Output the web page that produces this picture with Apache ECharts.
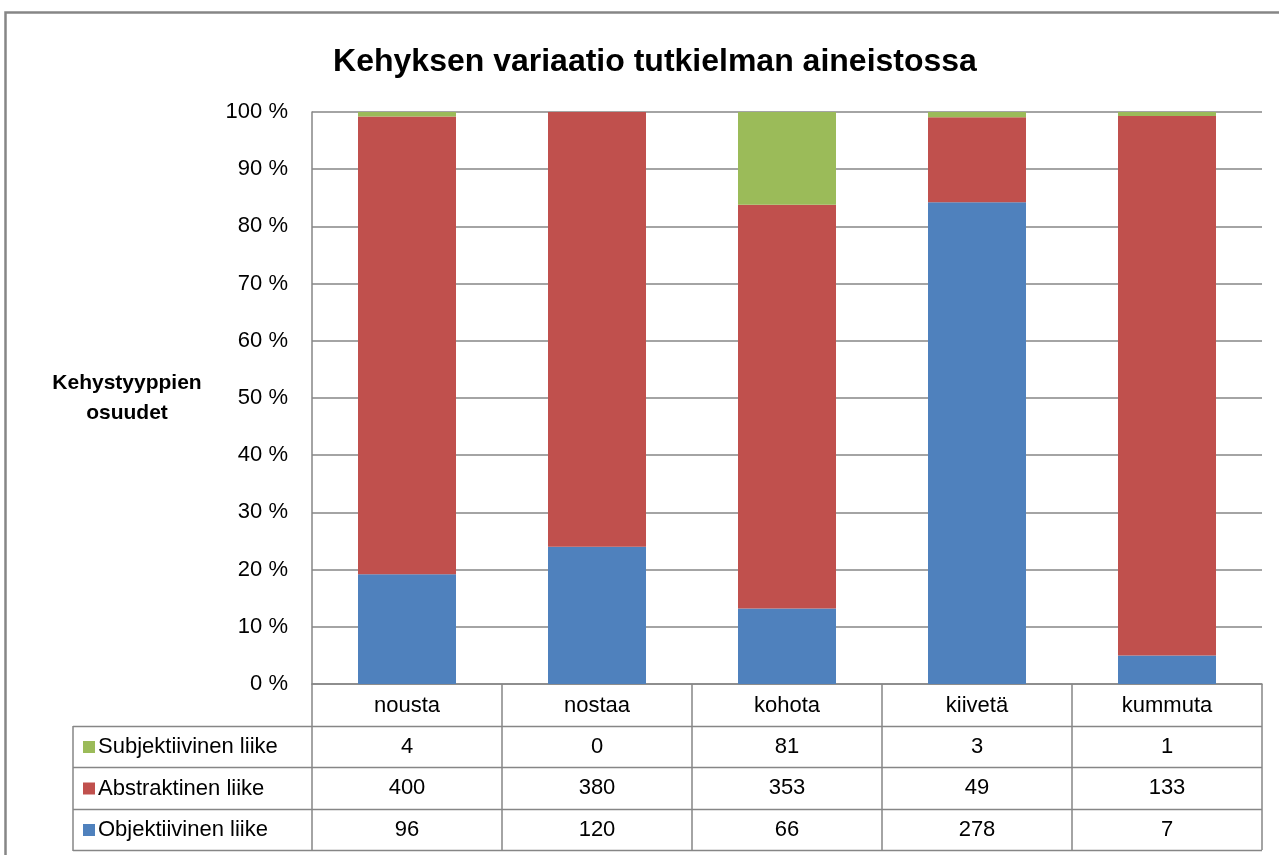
<!DOCTYPE html>
<html>
<head>
<meta charset="utf-8">
<script src="https://cdn.jsdelivr.net/npm/echarts@6/dist/echarts.min.js"></script>
<style>
  html, body { margin: 0; padding: 0; background: #fff; }
  #chart { width: 1279px; height: 855px; }
</style>
</head>
<body>
<div id="chart"></div>
<script>
const categories = ["nousta", "nostaa", "kohota", "kiivetä", "kummuta"];
const subjektiivinen = [4, 0, 81, 3, 1];
const abstraktinen = [400, 380, 353, 49, 133];
const objektiivinen = [96, 120, 66, 278, 7];
const yTicks = [0, 10, 20, 30, 40, 50, 60, 70, 80, 90, 100];

const FONT = "Liberation Sans";
const GRID_COLOR = "#868686";
const colors = {
  sub: "#9BBB59",
  abs: "#C0504D",
  obj: "#4F81BD",
};

// totals per verb -> shares in percent
const totals = categories.map((c, i) => subjektiivinen[i] + abstraktinen[i] + objektiivinen[i]);
const pct = (arr) => arr.map((v, i) => (v / totals[i]) * 100);

const gridLeft = 312, gridRight = 17, gridTop = 112, gridBottom = 171;
const plotBottom = 855 - gridBottom; // 684
const rowH = 41.5;
const tableLeft = 73, tableRight = 1279 - gridRight;
const TXT = 22;

const chart = echarts.init(document.getElementById("chart"));

// table lines (legend column + row separators)
const tableLines = [];
for (let r = 1; r <= 4; r++) {
  const y = Math.round(plotBottom + r * rowH) + 0.5;
  tableLines.push({
    type: "line",
    shape: { x1: tableLeft, y1: y, x2: tableRight, y2: y },
    style: { stroke: GRID_COLOR, lineWidth: 1.5 },
  });
}
tableLines.push({
  type: "line",
  shape: { x1: tableLeft, y1: Math.round(plotBottom + rowH), x2: tableLeft, y2: Math.round(plotBottom + 4 * rowH) + 1 },
  style: { stroke: GRID_COLOR, lineWidth: 1.5 },
});

const rowAxis = (vals, k) => ({
  type: "category",
  gridIndex: 0,
  position: "bottom",
  offset: Math.round(k * rowH),
  data: vals.map(String),
  axisLine: { show: false },
  axisTick: { show: false },
  axisLabel: { interval: 0, margin: 10, fontSize: TXT, color: "#000", fontFamily: FONT },
});

const option = {
  animation: false,
  backgroundColor: "#fff",
  title: {
    text: "Kehyksen variaatio tutkielman aineistossa",
    left: 650,
    top: 41,
    textAlign: "center",
    textStyle: { fontSize: 32, fontWeight: "bold", color: "#000", fontFamily: FONT },
  },
  legend: {
    orient: "vertical",
    left: 78,
    top: 731,
    itemGap: 19.5,
    itemWidth: 12,
    itemHeight: 12,
    icon: "rect",
    data: ["Subjektiivinen liike", "Abstraktinen liike", "Objektiivinen liike"],
    textStyle: { fontSize: TXT, lineHeight: 22, color: "#000", fontFamily: FONT, padding: [0, 0, 0, -2] },
  },
  grid: { left: gridLeft, right: gridRight, top: gridTop, bottom: gridBottom },
  xAxis: [
    {
      type: "category",
      data: categories,
      axisLine: { show: true, lineStyle: { color: GRID_COLOR, width: 1.5 } },
      axisTick: { show: true, interval: 0, length: Math.round(4 * rowH), lineStyle: { color: GRID_COLOR, width: 1.5 } },
      axisLabel: { interval: 0, margin: 11, fontSize: TXT, color: "#000", fontFamily: FONT },
    },
    rowAxis(subjektiivinen, 1),
    rowAxis(abstraktinen, 2),
    rowAxis(objektiivinen, 3),
  ],
  yAxis: {
    type: "value",
    min: yTicks[0],
    max: yTicks[yTicks.length - 1],
    interval: 10,
    name: "Kehystyyppien\nosuudet",
    nameLocation: "middle",
    nameRotate: 0,
    nameGap: 185,
    nameTextStyle: { fontSize: 21, fontWeight: "bold", color: "#000", fontFamily: FONT, align: "center", verticalAlign: "middle", lineHeight: 30 },
    axisLine: { show: true, lineStyle: { color: GRID_COLOR, width: 1.5 } },
    axisTick: { show: false },
    axisLabel: { formatter: "{value} %", margin: 24, fontSize: TXT, color: "#000", fontFamily: FONT },
    splitLine: { lineStyle: { color: GRID_COLOR, width: 1.5 } },
  },
  series: [
    { name: "Objektiivinen liike", type: "bar", stack: "all", barWidth: 98, data: pct(objektiivinen), itemStyle: { color: colors.obj } },
    { name: "Abstraktinen liike", type: "bar", stack: "all", barWidth: 98, data: pct(abstraktinen), itemStyle: { color: colors.abs } },
    { name: "Subjektiivinen liike", type: "bar", stack: "all", barWidth: 98, data: pct(subjektiivinen), itemStyle: { color: colors.sub } },
  ],
  graphic: [
    {
      type: "rect",
      shape: { x: 5.5, y: 12.5, width: 1290, height: 900 },
      style: { fill: "none", stroke: GRID_COLOR, lineWidth: 2.5 },
      silent: true,
    },
    ...tableLines,
  ],
};

chart.setOption(option);
</script>
</body>
</html>
